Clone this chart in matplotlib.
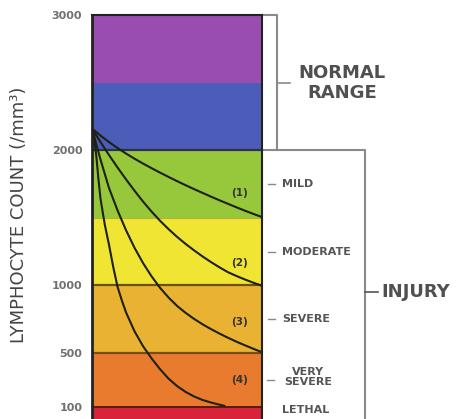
import matplotlib
matplotlib.use("Agg")
import matplotlib.pyplot as plt

# lymphocyte count bands (/mm3) and their colours
band_edges = [0, 100, 500, 1000, 1500, 2000, 2500, 3000]
band_colors = ["#d8233a", "#e87b2e", "#e9b233", "#f1e534", "#97c83c", "#4b5db8", "#9a4db0"]

yticks = [100, 500, 1000, 2000, 3000]

# decline curves (time as fraction of column width)
t_full = [0, 0.05, 0.1, 0.15, 0.2, 0.25, 0.3, 0.35, 0.4, 0.45, 0.5,
          0.55, 0.6, 0.65, 0.7, 0.75, 0.8, 0.85, 0.9, 0.95, 1.0]
v1 = [2160, 2108, 2060, 2016, 1975, 1937, 1901, 1867, 1834, 1802, 1771,
      1741, 1712, 1684, 1656, 1629, 1603, 1577, 1552, 1528, 1505]
v2 = [2160, 2060, 1964, 1872, 1784, 1700, 1620, 1546, 1478, 1416, 1359,
      1307, 1259, 1214, 1172, 1133, 1097, 1069, 1043, 1019, 997]
v3 = [2160, 1930, 1720, 1555, 1408, 1278, 1165, 1067, 982, 910, 848,
      797, 752, 712, 676, 643, 612, 583, 556, 530, 505]
t4 = [0, 0.0125, 0.025, 0.0375, 0.05, 0.075, 0.1, 0.125, 0.15, 0.175, 0.2,
      0.25, 0.3, 0.35, 0.4, 0.45, 0.5, 0.55, 0.6, 0.65, 0.7, 0.75, 0.78]
v4 = [2160, 2090, 1960, 1790, 1640, 1450, 1300, 1135, 990, 890, 800,
      660, 550, 460, 380, 310, 255, 212, 178, 152, 133, 117, 108]
curve_labels = ["(1)", "(2)", "(3)", "(4)"]
curve_label_y = [1683, 1165, 728, 300]

grades = ["MILD", "MODERATE", "SEVERE", "VERY\nSEVERE", "LETHAL"]
grade_y = [1750, 1250, 750, 325, 75]

fig = plt.figure(figsize=(4.58, 4.19), dpi=100)
ax = fig.add_axes([0.2009, -0.0036, 0.3712, 0.9678])
ax.set_xlim(0, 1)
ax.set_ylim(0, 3000)

for i in range(len(band_colors)):
    ax.axhspan(band_edges[i], band_edges[i + 1], color=band_colors[i], lw=0)
ax.axhline(2000, color="#2b2f5a", lw=1.6)
ax.axhline(1500, color="#b8b040", lw=0.8)
ax.axhline(1000, color="#6b5214", lw=1.6)
ax.axhline(500, color="#7a4a18", lw=1.6)
ax.axhline(100, color="#5a1a10", lw=1.4)

curve_col = "#1e2010"
for t, v in [(t_full, v1), (t_full, v2), (t_full, v3), (t4, v4)]:
    ax.plot(t, v, color=curve_col, lw=1.5, solid_capstyle="round")
for lab, y in zip(curve_labels, curve_label_y):
    ax.text(0.865, y, lab, fontsize=7.5, fontweight="bold", color="#333",
            ha="center", va="center")

for s in ["left", "right", "top"]:
    ax.spines[s].set_color("#222")
ax.spines["left"].set_linewidth(2)
ax.spines["right"].set_linewidth(1.5)
ax.spines["top"].set_linewidth(1.5)
ax.spines["bottom"].set_visible(False)
ax.set_xticks([])
ax.set_yticks(yticks)
ax.set_yticklabels([str(y) for y in yticks])
ax.tick_params(axis="y", length=0, pad=7, labelsize=8, labelcolor="#707070")
for lab in ax.get_yticklabels():
    lab.set_fontweight("bold")

fig.text(19 / 458, 1 - 215 / 419, "LYMPHOCYTE COUNT (/mm³)", rotation=90,
         ha="center", va="center", fontsize=13, color="#444")

gray = "#8a8a8a"
# normal range bracket
ax.plot([1.0, 1.088, 1.088], [3000, 3000, 2000], color=gray, lw=1.5, clip_on=False)
ax.plot([1.088, 1.165], [2500, 2500], color=gray, lw=1.2, clip_on=False)
ax.text(1.47, 2500, "NORMAL\nRANGE", fontsize=13, fontweight="bold", color="#505050",
        ha="center", va="center", linespacing=1.15, clip_on=False)

# injury bracket
ax.plot([1.0, 1.606, 1.606], [2000, 2000, -100], color=gray, lw=1.5, clip_on=False)
ax.plot([1.606, 1.682], [950, 950], color="#555", lw=1.2, clip_on=False)
ax.text(1.70, 950, "INJURY", fontsize=13, fontweight="bold", color="#505050",
        ha="left", va="center", clip_on=False)

for g, y in zip(grades, grade_y):
    if g.startswith("VERY"):
        ax.plot([1.03, 1.07], [y - 25, y - 25], color=gray, lw=1, clip_on=False)
        ax.text(1.27, y, g, fontsize=8, fontweight="bold", color="#555",
                ha="center", va="center", linespacing=1.0, clip_on=False)
    else:
        if g != "LETHAL":
            ax.plot([1.035, 1.076], [y, y], color=gray, lw=1, clip_on=False)
        ax.text(1.118, y, g, fontsize=8, fontweight="bold", color="#555",
                ha="left", va="center", clip_on=False)

fig.savefig("out.png", dpi=100)
